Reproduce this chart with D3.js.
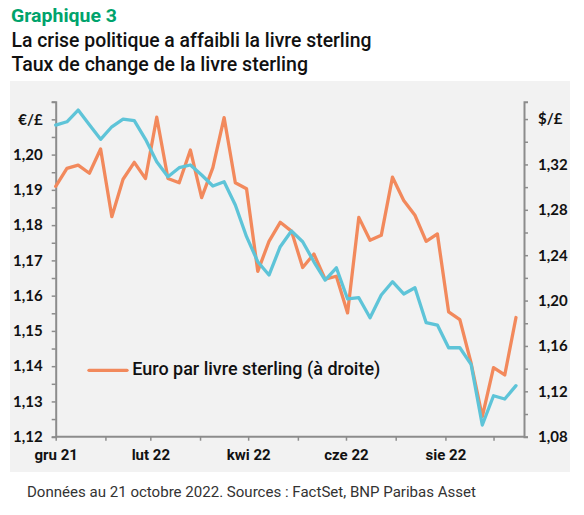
<!DOCTYPE html>
<html>
<head>
<meta charset="utf-8">
<script src="https://cdn.jsdelivr.net/npm/d3@7"></script>
<style>
  html, body { margin: 0; padding: 0; background: #ffffff; }
  svg { display: block; }
</style>
</head>
<body>
<svg id="chart" width="584" height="515"></svg>
<script>
// ---------- data ----------
const weekDates = [
  "2022-01-07","2022-01-14","2022-01-21","2022-01-28",
  "2022-02-04","2022-02-11","2022-02-18","2022-02-25",
  "2022-03-04","2022-03-11","2022-03-18","2022-03-25",
  "2022-04-01","2022-04-08","2022-04-15","2022-04-22","2022-04-29",
  "2022-05-06","2022-05-13","2022-05-20","2022-05-27",
  "2022-06-03","2022-06-10","2022-06-17","2022-06-24",
  "2022-07-01","2022-07-08","2022-07-15","2022-07-22","2022-07-29",
  "2022-08-05","2022-08-12","2022-08-19","2022-08-26",
  "2022-09-02","2022-09-09","2022-09-16","2022-09-23","2022-09-30",
  "2022-10-07","2022-10-14","2022-10-21"
];
// Euro per pound (left axis, orange)
const eurGbp = [
  1.1910, 1.1961, 1.1970, 1.1947, 1.2016, 1.1824, 1.1930, 1.1978,
  1.1932, 1.2106, 1.1932, 1.1920, 1.2013, 1.1878, 1.1963, 1.2105, 1.1920,
  1.1903, 1.1669, 1.1754, 1.1808, 1.1783, 1.1680, 1.1718, 1.1647,
  1.1655, 1.1551, 1.1822, 1.1757, 1.1771, 1.1936, 1.1870, 1.1828,
  1.1754, 1.1775, 1.1554, 1.1532, 1.1409, 1.1257, 1.1396, 1.1375, 1.1538
];
// Dollar per pound (right axis, blue)
const usdGbp = [
  1.3547, 1.3576, 1.3679, 1.3550, 1.3421, 1.3532, 1.3600, 1.3587,
  1.3421, 1.3224, 1.3092, 1.3171, 1.3195, 1.3107, 1.3010, 1.3047, 1.2842,
  1.2563, 1.2342, 1.2225, 1.2475, 1.2613, 1.2519, 1.2342, 1.2181,
  1.2289, 1.2014, 1.2025, 1.1849, 1.2049, 1.2166, 1.2058, 1.2113,
  1.1805, 1.1784, 1.1584, 1.1584, 1.1438, 1.0903, 1.1161, 1.1132, 1.1250
];
const xTickDates = [
  "2022-01-07","2022-02-07","2022-03-07","2022-04-07","2022-05-07",
  "2022-06-07","2022-07-07","2022-08-07","2022-09-07","2022-10-07"
];
const xTickLabels = ["gru 21","","lut 22","","kwi 22","","cze 22","","sie 22",""];
const leftTickValues = [1.12,1.125,1.13,1.135,1.14,1.145,1.15,1.155,1.16,1.165,1.17,1.175,1.18,1.185,1.19,1.195,1.20,1.205,1.21,1.215];
const leftTickLabels = ["1,12","","1,13","","1,14","","1,15","","1,16","","1,17","","1,18","","1,19","","1,20","","€/£",""];
const rightTickValues = [1.08,1.10,1.12,1.14,1.16,1.18,1.20,1.22,1.24,1.26,1.28,1.30,1.32,1.34,1.36];
const rightTickLabels = ["1,08","","1,12","","1,16","","1,20","","1,24","","1,28","","1,32","","$/£"];

const titleLines = ["Graphique 3", "La crise politique a affaibli la livre sterling", "Taux de change de la livre sterling"];
const legendLabel = "Euro par livre sterling (à droite)";
const footerText = "Données au 21 octobre 2022. Sources : FactSet, BNP Paribas Asset";

// ---------- setup ----------
const parse = d3.timeParse("%Y-%m-%d");
const dates = weekDates.map(parse);
const svg = d3.select("#chart");
const ORANGE = "#f2895c";
const BLUE = "#5ec4d8";
const AXIS = "#8c8c8c";
const condensed = "Roboto, 'Liberation Sans', sans-serif";

// panel background
svg.append("rect").attr("x", 10).attr("y", 81).attr("width", 560).attr("height", 391).attr("fill", "#f2f2f2");

// titles
svg.append("text").attr("x", 11).attr("y", 21.7).text(titleLines[0])
  .attr("font-family", condensed).attr("font-weight", 700).attr("font-size", 19)
  .attr("fill", "#00a36c").attr("textLength", 106).attr("lengthAdjust", "spacingAndGlyphs");
svg.append("text").attr("x", 11.5).attr("y", 47.3).text(titleLines[1])
  .attr("font-family", condensed).attr("font-weight", 500).attr("font-size", 20.5)
  .attr("fill", "#111").attr("textLength", 360).attr("lengthAdjust", "spacingAndGlyphs");
svg.append("text").attr("x", 11.5).attr("y", 70.7).text(titleLines[2])
  .attr("font-family", condensed).attr("font-weight", 500).attr("font-size", 20.5)
  .attr("fill", "#111").attr("textLength", 296.5).attr("lengthAdjust", "spacingAndGlyphs");

// scales
const x = d3.scaleTime().domain([parse("2022-01-07"), parse("2022-10-26")]).range([55.7, 524]);
const yL = d3.scaleLinear().domain([1.12, 1.215]).range([436.7, 101.7]);
const yR = d3.scaleLinear().domain([1.08, 1.3753]).range([436.7, 101.7]);

// axes
const tickFont = "Lato, 'Liberation Sans', sans-serif";
const gL = svg.append("g").attr("transform", "translate(55.7,0)")
  .call(d3.axisLeft(yL).tickValues(leftTickValues).tickSize(4).tickPadding(9)
    .tickFormat((d, i) => leftTickLabels[i]));
const gR = svg.append("g").attr("transform", "translate(524,0)")
  .call(d3.axisRight(yR).tickValues(rightTickValues).tickSize(4).tickPadding(10)
    .tickFormat((d, i) => rightTickLabels[i]));
const gX = svg.append("g").attr("transform", "translate(0,436.7)")
  .call(d3.axisBottom(x).tickValues(xTickDates.map(parse)).tickSize(4).tickPadding(9)
    .tickFormat((d, i) => xTickLabels[i]));

[gL, gR].forEach(g => {
  g.selectAll("text").attr("font-family", tickFont).attr("font-weight", 700)
    .attr("font-size", 15).attr("fill", "#111");
});
gX.selectAll("text").attr("font-family", condensed).attr("font-weight", 700)
  .attr("font-size", 15).attr("fill", "#111");
[gL, gR, gX].forEach(g => {
  g.select(".domain").attr("stroke", AXIS).attr("stroke-width", 2);
  g.selectAll(".tick line").attr("stroke", AXIS).attr("stroke-width", 1.5);
});
gX.select(".domain").attr("d", "M55.7,0H524");

// lines
const lineL = d3.line().x((d, i) => x(dates[i])).y(d => yL(d));
const lineR = d3.line().x((d, i) => x(dates[i])).y(d => yR(d));
svg.append("path").datum(eurGbp).attr("d", lineL).attr("fill", "none")
  .attr("stroke", ORANGE).attr("stroke-width", 3.3).attr("stroke-linejoin", "round").attr("stroke-linecap", "round");
svg.append("path").datum(usdGbp).attr("d", lineR).attr("fill", "none")
  .attr("stroke", BLUE).attr("stroke-width", 3.3).attr("stroke-linejoin", "round").attr("stroke-linecap", "round");

// legend
svg.append("line").attr("x1", 89).attr("x2", 127).attr("y1", 370.3).attr("y2", 370.3)
  .attr("stroke", ORANGE).attr("stroke-width", 3.3).attr("stroke-linecap", "round");
svg.append("text").attr("x", 132.3).attr("y", 375).text(legendLabel)
  .attr("font-family", condensed).attr("font-weight", 500).attr("font-size", 17.5)
  .attr("fill", "#111").attr("textLength", 248).attr("lengthAdjust", "spacingAndGlyphs");

// footer
svg.append("text").attr("x", 27).attr("y", 496.5).text(footerText)
  .attr("font-family", condensed).attr("font-weight", 400).attr("font-size", 15.5)
  .attr("fill", "#333").attr("textLength", 449).attr("lengthAdjust", "spacingAndGlyphs");
</script>
</body>
</html>
